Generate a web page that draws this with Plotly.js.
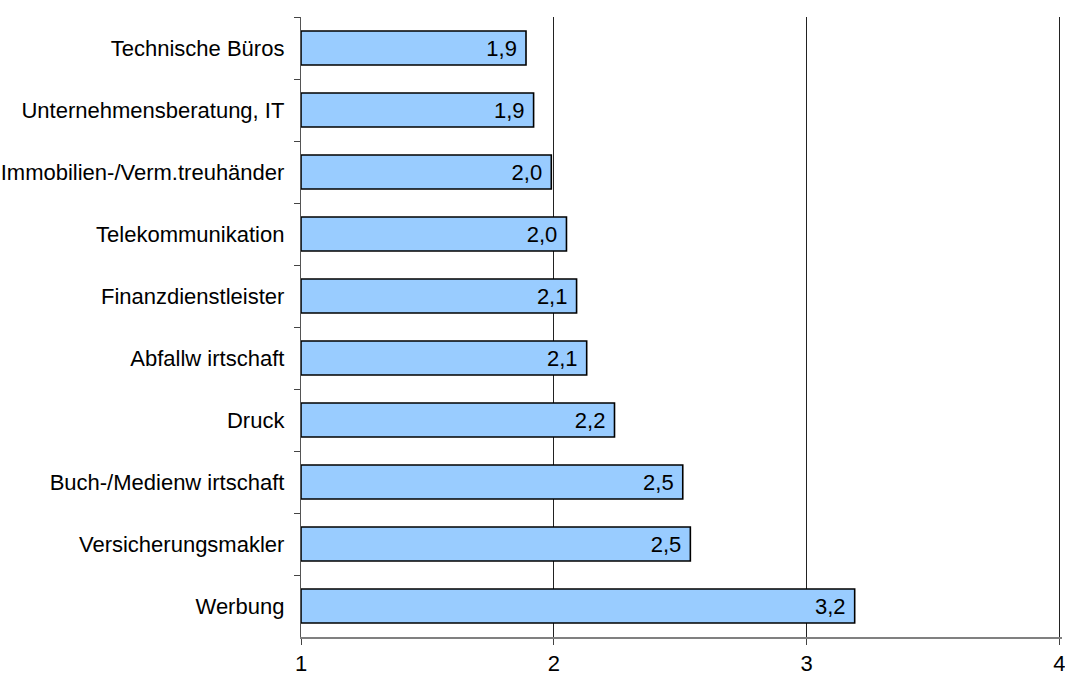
<!DOCTYPE html>
<html>
<head>
<meta charset="utf-8">
<script src="https://cdn.plot.ly/plotly-3.0.1.min.js"></script>
<style>
html,body{margin:0;padding:0;background:#fff;}
#chart{width:1065px;height:675px;}
</style>
</head>
<body>
<div id="chart"></div>
<script>
const categories = [
  "Technische Büros",
  "Unternehmensberatung, IT",
  "Immobilien-/Verm.treuhänder",
  "Telekommunikation",
  "Finanzdienstleister",
  "Abfallw irtschaft",
  "Druck",
  "Buch-/Medienw irtschaft",
  "Versicherungsmakler",
  "Werbung"
];
const values = [1.89, 1.92, 1.99, 2.05, 2.09, 2.13, 2.24, 2.51, 2.54, 3.19];
const axisBase = 1;
const xTicks = [1, 2, 3, 4];

const fontFam = '"Liberation Sans", Arial, sans-serif';

const trace = {
  type: 'bar',
  orientation: 'h',
  y: categories,
  x: values.map(v => v - axisBase),
  base: axisBase,
  text: values.map(v => v.toFixed(1).replace('.', ',') + '\u00a0'),
  textposition: 'inside',
  insidetextanchor: 'end',
  textfont: {family: fontFam, size: 22, color: '#000'},
  constraintext: 'none',
  marker: {color: '#99CCFF', line: {color: '#000', width: 1.6}},
  hoverinfo: 'skip'
};

const layout = {
  width: 1065,
  height: 675,
  margin: {l: 301, r: 3, t: 17, b: 38},
  paper_bgcolor: '#fff',
  plot_bgcolor: '#fff',
  bargap: 0.45,
  showlegend: false,
  font: {family: fontFam, size: 22, color: '#000'},
  xaxis: {
    range: [1, 4.01],
    tickvals: xTicks,
    ticktext: xTicks.map(String),
    ticklabeloverflow: 'allow',
    showgrid: true,
    gridcolor: '#222',
    gridwidth: 1,
    zeroline: false,
    showline: true,
    linecolor: '#808080',
    linewidth: 1.5,
    ticks: 'outside',
    ticklen: 6,
    tickcolor: '#444',
    tickfont: {family: fontFam, size: 22, color: '#000'}
  },
  yaxis: {
    autorange: 'reversed',
    type: 'category',
    showgrid: false,
    zeroline: false,
    showline: true,
    linecolor: '#555',
    linewidth: 1.2,
    ticks: 'outside',
    tickson: 'boundaries',
    ticklen: 6,
    tickcolor: '#444',
    ticklabelstandoff: 11,
    tickfont: {family: fontFam, size: 22, color: '#000'}
  }
};

Plotly.newPlot('chart', [trace], layout, {displayModeBar: false, staticPlot: true});
</script>
</body>
</html>
